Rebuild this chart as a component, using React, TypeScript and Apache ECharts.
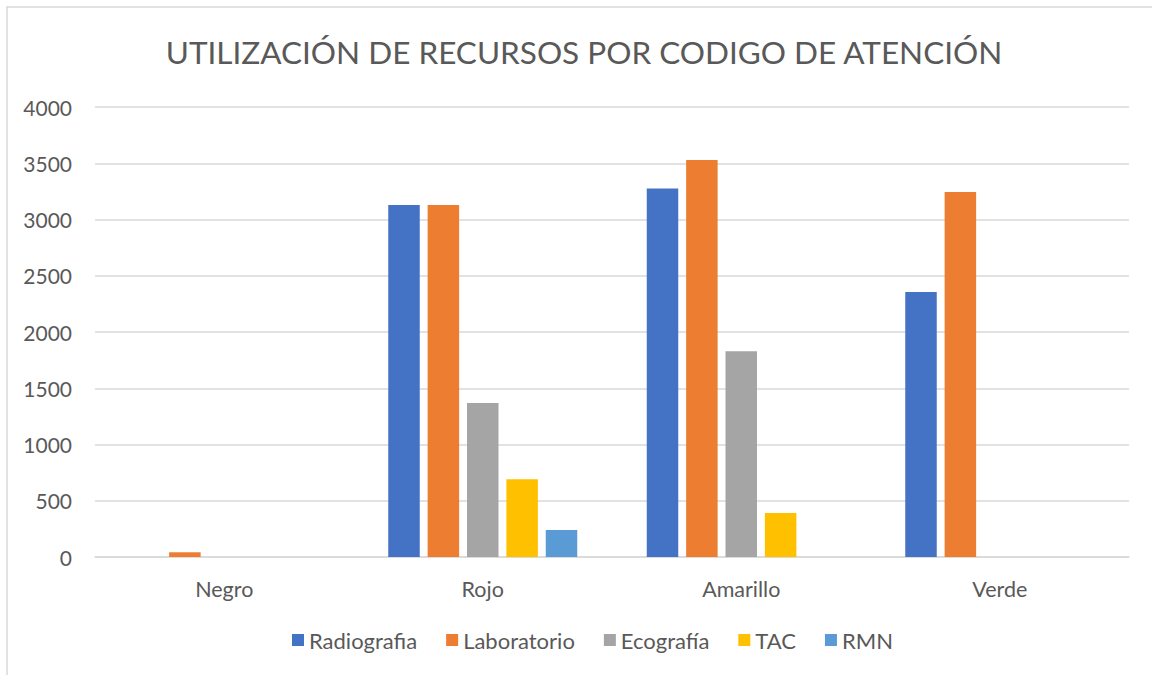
import React, { useEffect, useRef } from "react";
import * as echarts from "echarts";

const categories = ["Negro", "Rojo", "Amarillo", "Verde"];
const seriesNames = ["Radiografia", "Laboratorio", "Ecografía", "TAC", "RMN"];
const radiografia = [0, 3130, 3275, 2355];
const laboratorio = [42, 3130, 3530, 3245];
const ecografia = [0, 1368, 1830, 0];
const tac = [0, 692, 392, 0];
const rmn = [0, 240, 0, 0];
const yTicks = { min: 0, max: 4000, interval: 500 };
const colors = ["#4472C4", "#ED7D31", "#A5A5A5", "#FFC000", "#5B9BD5"];
const titleText = "UTILIZACIÓN DE RECURSOS POR CODIGO DE ATENCIÓN";

const FONT = "Lato";
const TEXT_COLOR = "#595959";

export default function App() {
  const ref = useRef<HTMLDivElement>(null);
  useEffect(() => {
    if (!ref.current) return;
    const chart = echarts.init(ref.current, undefined, { renderer: "svg" });
    const values = [radiografia, laboratorio, ecografia, tac, rmn];
    chart.setOption({
      animation: false,
      backgroundColor: "#ffffff",
      textStyle: { fontFamily: FONT },
      graphic: [
        {
          type: "rect",
          shape: { x: 7, y: 7, width: 1160, height: 700 },
          style: { fill: "none", stroke: "#d9d9d9", lineWidth: 1.5 },
          silent: true,
        },
        {
          type: "text",
          x: 584,
          y: 52,
          style: {
            text: titleText,
            fontFamily: FONT,
            fontSize: 31.5,
            fill: TEXT_COLOR,
            textAlign: "center",
            textVerticalAlign: "middle",
          },
        },
      ],
      legend: {
        data: seriesNames,
        left: 287,
        top: 624,
        icon: "rect",
        itemWidth: 12,
        itemHeight: 12,
        itemGap: 29,
        textStyle: { fontFamily: FONT, fontSize: 22, color: TEXT_COLOR },
      },
      grid: { left: 95, right: 23, top: 107, bottom: 118, containLabel: false },
      xAxis: {
        type: "category",
        data: categories,
        axisTick: { show: false },
        axisLine: { lineStyle: { color: "#d9d9d9", width: 1.5 } },
        axisLabel: { fontFamily: FONT, fontSize: 21.5, color: TEXT_COLOR, margin: 21 },
      },
      yAxis: {
        type: "value",
        min: yTicks.min,
        max: yTicks.max,
        interval: yTicks.interval,
        axisLine: { show: false },
        axisTick: { show: false },
        axisLabel: {
          fontFamily: FONT,
          fontSize: 21,
          color: TEXT_COLOR,
          margin: 23,
          formatter: (v: number) => String(v),
        },
        splitLine: { lineStyle: { color: "#d9d9d9", width: 1.5 } },
      },
      series: seriesNames.map((name, i) => ({
        name,
        type: "bar",
        data: values[i],
        barWidth: 31.5,
        barGap: "25%",
        itemStyle: { color: colors[i] },
      })),
    });
    return () => chart.dispose();
  }, []);
  return (
    <div
      ref={ref}
      style={{ position: "fixed", left: 0, top: 0, width: 1152, height: 675 }}
    />
  );
}
